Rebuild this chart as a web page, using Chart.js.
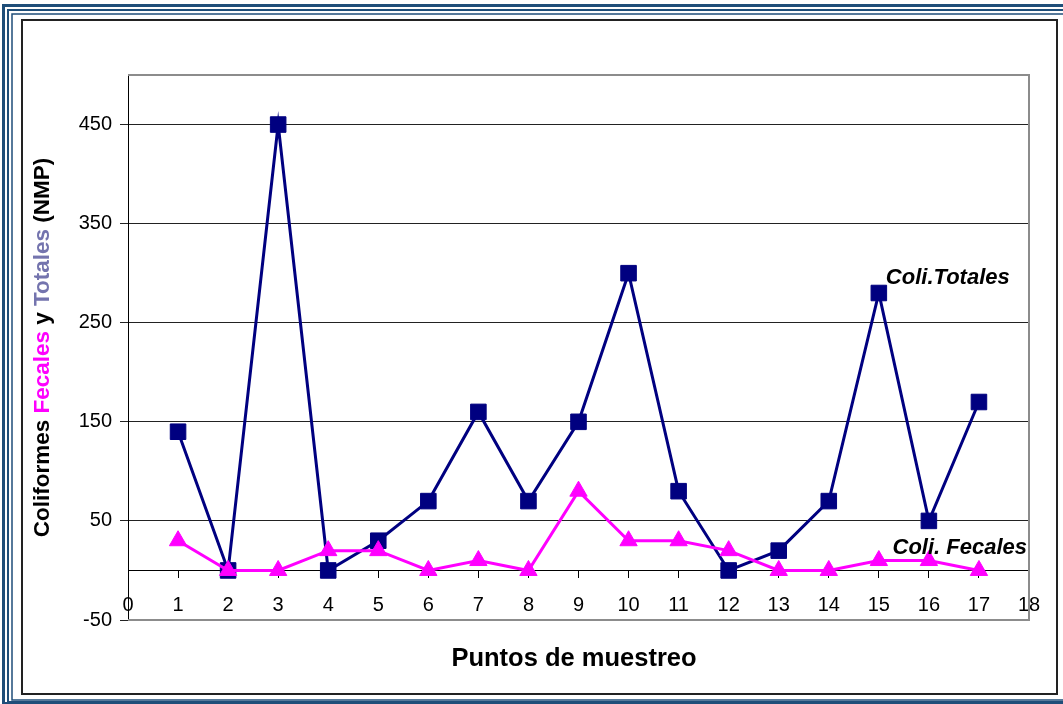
<!DOCTYPE html>
<html>
<head>
<meta charset="utf-8">
<script src="https://cdn.jsdelivr.net/npm/chart.js@4/dist/chart.umd.min.js"></script>
<style>
  html, body { margin: 0; padding: 0; background: #fff; overflow: hidden; }
  #wrap { width: 1063px; height: 704px; position: relative; }
</style>
</head>
<body>
<div id="wrap"><canvas id="myChartLine"></canvas></div>
<script>
// puntos de muestreo y valores (NMP)
var puntos = [1, 2, 3, 4, 5, 6, 7, 8, 9, 10, 11, 12, 13, 14, 15, 16, 17];
var totales = [140, 0, 450, 0, 30, 70, 160, 70, 150, 300, 80, 0, 20, 70, 280, 50, 170];
var fecales = [30, 0, 0, 20, 20, 0, 10, 0, 80, 30, 30, 20, 0, 0, 10, 10, 0];
var yTicks = [-50, 50, 150, 250, 350, 450];

function pares(valores) {
	return puntos.map(function (p, i) { return { x: p, y: valores[i] }; });
}

// marco, borde del area y titulos
var extras = {
	id: 'extras',
	beforeDraw: function (chart) {
		var c = chart.ctx;
		c.save();
		c.fillStyle = '#fff';
		c.fillRect(0, 0, chart.width, chart.height);
		c.strokeStyle = '#1F4E79';
		c.lineWidth = 3;
		c.strokeRect(3.5, 5.5, 1090, 698);
		c.lineWidth = 2;
		c.strokeRect(8, 10, 1090, 692);
		c.lineWidth = 1.5;
		c.strokeRect(12, 14, 1090, 686);
		c.strokeStyle = '#222';
		c.lineWidth = 2;
		c.strokeRect(22, 20, 1035, 674);
		c.restore();
	},
	afterDraw: function (chart) {
		var c = chart.ctx, a = chart.chartArea;
		var x = chart.scales.x, y = chart.scales.y;
		c.save();
		c.strokeStyle = '#8c8c8c';
		c.lineWidth = 2;
		c.beginPath();
		c.moveTo(a.left, a.top); c.lineTo(a.right, a.top);
		c.lineTo(a.right, a.bottom); c.lineTo(a.left, a.bottom);
		c.stroke();

		// titulo eje y con colores
		var partes = [['Coliformes ', '#000'], ['Fecales', '#FF00FF'], [' y ', '#000'], ['Totales', '#7474AE'], [' (NMP)', '#000']];
		c.font = 'bold 22.5px "Liberation Sans", Arial, sans-serif';
		var total = 0;
		partes.forEach(function (p) { total += c.measureText(p[0]).width; });
		c.translate(43, (a.top + a.bottom) / 2);
		c.rotate(-Math.PI / 2);
		c.textBaseline = 'middle';
		c.textAlign = 'left';
		var pos = -total / 2;
		partes.forEach(function (p) {
			c.fillStyle = p[1];
			c.fillText(p[0], pos, 0);
			pos += c.measureText(p[0]).width;
		});
		c.setTransform(chart.currentDevicePixelRatio, 0, 0, chart.currentDevicePixelRatio, 0, 0);

		// titulo eje x
		c.fillStyle = '#000';
		c.textAlign = 'center';
		c.textBaseline = 'middle';
		c.font = 'bold 25.5px "Liberation Sans", Arial, sans-serif';
		c.fillText('Puntos de muestreo', 574, 659);

		// etiquetas de series
		c.font = 'italic bold 22px "Liberation Sans", Arial, sans-serif';
		c.textBaseline = 'alphabetic';
		c.textAlign = 'left';
		c.fillText('Coli.Totales', x.getPixelForValue(15.14), y.getPixelForValue(289));
		c.textAlign = 'right';
		c.fillText('Coli. Fecales', x.getPixelForValue(17.96), y.getPixelForValue(17));
		c.restore();
	}
};

var ctx = document.getElementById('myChartLine').getContext('2d');
var chart = new Chart(ctx, {
	type: 'line',
	data: {
		datasets: [{
			label: 'Coli. Fecales',
			data: pares(fecales),
			borderColor: '#FF00FF',
			backgroundColor: '#FF00FF',
			borderWidth: 3,
			pointStyle: 'triangle',
			pointRadius: 10,
			pointBorderWidth: 1,
			tension: 0,
			clip: false
		}, {
			label: 'Coli.Totales',
			data: pares(totales),
			borderColor: '#000080',
			backgroundColor: '#000080',
			borderWidth: 3,
			pointStyle: 'rect',
			pointRadius: 11,
			pointBorderWidth: 1,
			tension: 0,
			clip: false
		}]
	},
	options: {
		responsive: true,
		maintainAspectRatio: false,
		animation: false,
		layout: { padding: { left: 0, top: 75, right: 34, bottom: 84 } },
		plugins: { legend: { display: false }, tooltip: { enabled: false } },
		scales: {
			x: {
				type: 'linear',
				position: { y: 0 },
				min: 0,
				max: 18,
				ticks: { stepSize: 1, color: '#000', padding: 16, font: { size: 20, family: '"Liberation Sans", Arial, sans-serif' } },
				grid: { drawOnChartArea: false, drawTicks: true, tickLength: 7, color: '#000' },
				border: { display: true, color: '#000', width: 1 }
			},
			y: {
				type: 'linear',
				min: -50,
				max: 500,
				afterBuildTicks: function (scale) {
					scale.ticks = yTicks.map(function (v) { return { value: v }; });
				},
				afterFit: function (scale) { scale.width = 128; },
				ticks: { color: '#000', padding: 8, font: { size: 20, family: '"Liberation Sans", Arial, sans-serif' } },
				grid: { color: '#222', lineWidth: 1, tickLength: 8 },
				border: { display: true, color: '#000', width: 1 }
			}
		}
	},
	plugins: [extras]
});
</script>
</body>
</html>
